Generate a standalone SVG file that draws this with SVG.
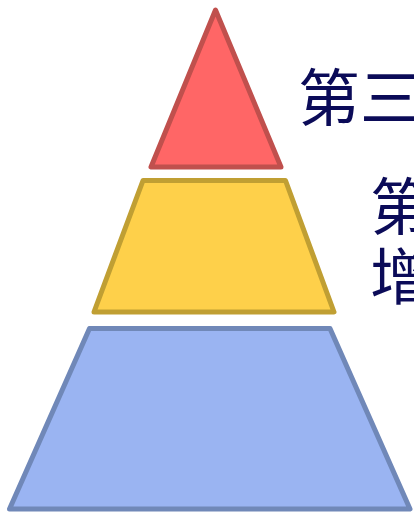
<svg xmlns="http://www.w3.org/2000/svg" width="414" height="514" viewBox="0 0 414 514">
<style>
.lvl{stroke-width:5;stroke-linejoin:round}
.t{font-family:"Liberation Serif","Noto Sans CJK SC",serif;fill:#0b0b58;font-size:62px}
</style>
<rect width="414" height="514" fill="#ffffff"/>
<g id="top">
<polygon class="lvl" points="215.5,10 151,167 281,167" fill="#ff6666" stroke="#c0504d"/>
</g>
<g id="middle">
<polygon class="lvl" points="143,180.5 285.5,180.5 334,312 94,312" fill="#fed04a" stroke="#c09f33"/>
</g>
<g id="bottom">
<polygon class="lvl" points="89.5,328.5 330,328.5 410,509 9.5,509" fill="#9ab4f2" stroke="#7088b8"/>
</g>
<g id="labels">
<text class="t" x="298" y="121">第三</text>
<text class="t" x="370" y="230">第</text>
<text class="t" x="370" y="300">增</text>
</g>
</svg>
